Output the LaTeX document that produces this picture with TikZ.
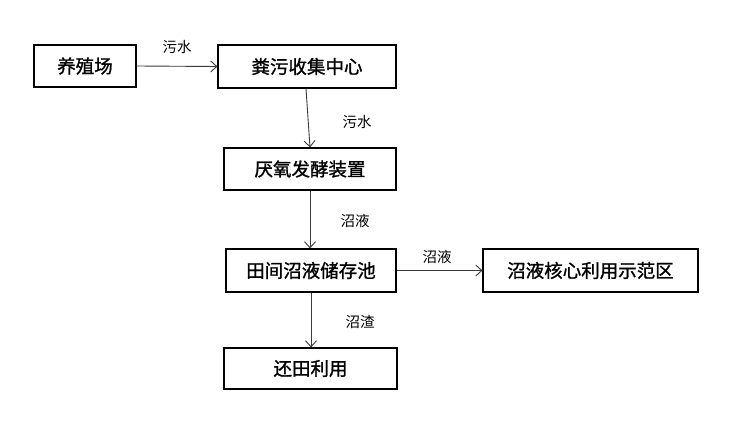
\documentclass[tikz,border=0pt]{standalone}
\usepackage{fontspec}
\usepackage{tikz}
\usetikzlibrary{arrows.meta,positioning}
\newfontfamily\cjkbold{Noto Sans CJK SC}[FakeBold=1.2]
\newfontfamily\cjklight{Noto Sans CJK SC}
\definecolor{ink}{HTML}{000000}
\definecolor{wire}{HTML}{3A3A3A}
\tikzset{
  stagebox/.style={rectangle, draw=ink, fill=white, line width=1.2pt, align=center,
                   inner sep=0pt, font=\cjkbold\fontsize{18.5}{21}\selectfont},
  flowlbl/.style={font=\cjklight\fontsize{14.5}{16}\selectfont, text=ink, inner sep=0pt},
  flow/.style={-{Straight Barb[length=6pt,width=11pt]}, draw=wire, line width=0.9pt}
}
\begin{document}
\begin{tikzpicture}[x=1pt, y=-1pt]
  \useasboundingbox (0,0) rectangle (729,425);
  % process boxes
  \node[stagebox, minimum width=102pt, minimum height=42pt] (farm) at (85,66) {养殖场};
  \node[stagebox, minimum width=178pt, minimum height=43pt] (collect) at (307,66.5) {粪污收集中心};
  \node[stagebox, minimum width=172pt, minimum height=42pt] (digest) at (310,169) {厌氧发酵装置};
  \node[stagebox, minimum width=170pt, minimum height=43pt] (pond) at (311,270.5) {田间沼液储存池};
  \node[stagebox, minimum width=215pt, minimum height=43pt] (demo) at (590.5,270.5) {沼液核心利用示范区};
  \node[stagebox, minimum width=173pt, minimum height=41pt] (field) at (310.5,368.5) {还田利用};
  % connectors
  \draw[flow] (farm.east) -- (collect.west);
  \draw[flow] ([xshift=-1pt]collect.south) -- (digest.north);
  \draw[flow] (digest.south) -- (digest.south |- pond.north);
  \draw[flow] (pond.east) -- (demo.west);
  \draw[flow] (pond.south) -- (pond.south |- field.north);
  % labels
  \node[flowlbl] (l1) at (177,47) {污水};
  \node[flowlbl] (l2) at (357,122) {污水};
  \node[flowlbl] (l3) at (355,221) {沼液};
  \node[flowlbl] (l4) at (437,257) {沼液};
  \node[flowlbl] (l5) at (360,322) {沼渣};
\end{tikzpicture}
\end{document}
